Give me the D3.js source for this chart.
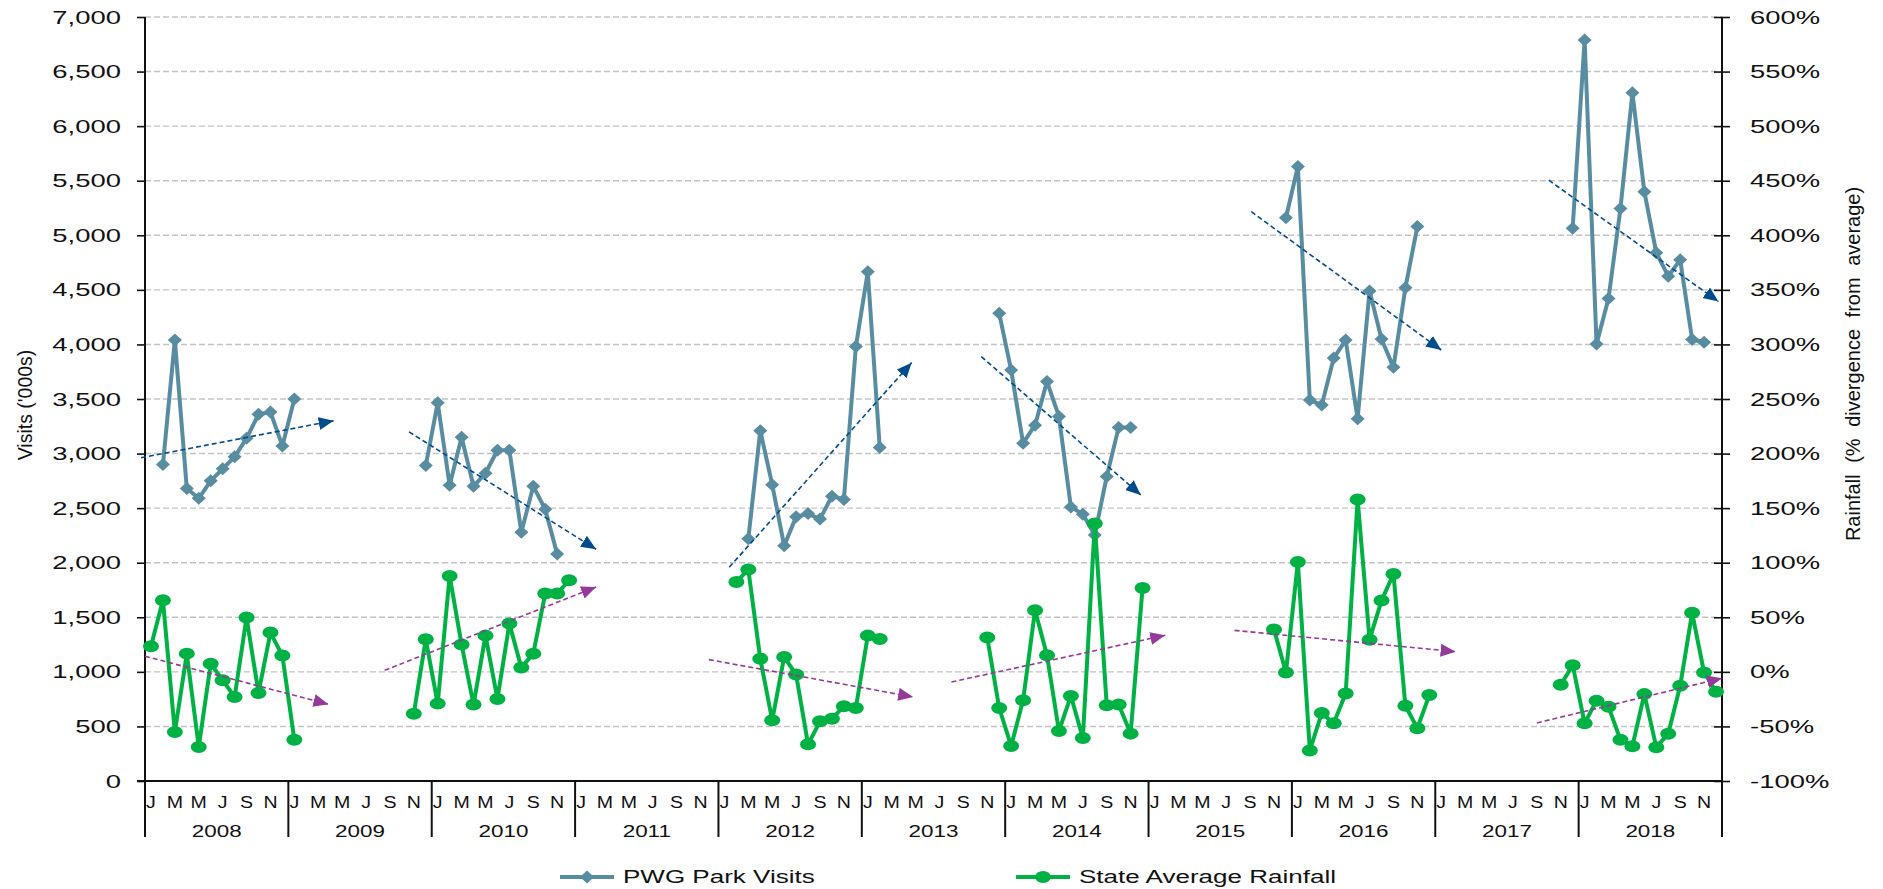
<!DOCTYPE html>
<html><head><meta charset="utf-8">
<script src="https://cdn.jsdelivr.net/npm/d3@7/dist/d3.min.js"></script>
<style>
body{margin:0;background:#fff}
svg{display:block}
text{font-family:"Liberation Sans",Arial,sans-serif;fill:#111}
</style>
</head><body>
<svg id="chart" width="1883" height="889"></svg>
<script>
// ---------------- DATA ----------------
const years = [2008,2009,2010,2011,2012,2013,2014,2015,2016,2017,2018];
const monthLetters = ["J","F","M","A","M","J","J","A","S","O","N","D"];
const leftTicks = [0,500,1000,1500,2000,2500,3000,3500,4000,4500,5000,5500,6000,6500,7000];
const rightTicks = [-100,-50,0,50,100,150,200,250,300,350,400,450,500,550,600];

// PWG Park Visits ('000s) — each block starts at the given month
const visitsStarts = ["2008-02","2009-12","2012-03","2013-12","2015-12","2017-12"];
const visits2008 = [2900,4040,2680,2590,2750,2860,2970,3140,3360,3380,3070,3500];
const visits2010 = [2890,3465,2710,3150,2700,2820,3030,3030,2280,2700,2490,2080];
const visits2012 = [2220,3210,2715,2155,2420,2450,2400,2610,2580,3980,4665,3055];
const visits2014 = [4285,3765,3095,3260,3660,3340,2510,2445,2255,2790,3240,3240];
const visits2016 = [5160,5630,3490,3445,3875,4040,3320,4490,4050,3790,4520,5080];
const visits2018 = [5065,6790,4005,4420,5245,6305,5400,4840,4625,4775,4045,4020];

// State Average Rainfall (% divergence from average)
const rainStarts = ["2008-01","2009-11","2012-02","2013-11","2015-11","2017-11"];
const rain2008 = [23.4,65.6,-55.1,16.7,-68.8,7.5,-7.7,-23.0,49.7,-19.3,36.0,14.9,-62.1];
const rain2010 = [-38.3,29.8,-29.1,87.9,25.0,-30.0,33.2,-24.8,44.2,3.9,16.7,71.7,71.7,83.9];
const rain2012 = [82.4,93.7,12.1,-44.4,13.7,-2.5,-66.4,-45.3,-42.9,-31.6,-33.1,33.2,30.2];
const rain2014 = [31.4,-33.1,-67.9,-26.1,56.4,15.2,-54.2,-22.1,-60.6,135.9,-30.6,-30.0,-56.6,76.9];
const rain2016 = [38.9,-0.6,100.6,-72.0,-37.7,-47.1,-19.8,158.0,29.5,65.3,89.7,-31.0,-51.7,-21.3];
const rain2018 = [-11.9,6.1,-47.1,-26.4,-31.9,-62.3,-68.1,-20.4,-69.0,-56.8,-12.8,54.1,-0.6,-18.2];

// trend arrows: [start month position, start value, end month position, end value]
const visitsTrends = [
  [-0.33,2962,15.79,3301],[22.1,3199,37.76,2123],[48.9,1958,64.17,3833],
  [70.0,3888,83.35,2621],[92.6,5216,108.5,3949],[117.5,5505,131.7,4393]];
const rainTrends = [
  [0.0,14.3,15.35,-29.7],[20.06,1.4,37.76,77.8],[47.2,11.2,64.3,-23.0],
  [67.5,-9.3,85.4,33.5],[91.2,38,109.7,18.5],[116.5,-46.8,132.0,-5.8]];

const seriesNames = ["PWG Park Visits","State Average Rainfall"];

// ---------------- CHART ----------------
const visitsColor = "#588ca1", rainColor = "#00b143";
const visitsTrendColor = "#004b8c", rainTrendColor = "#953a9b";

const svg = d3.select("#chart");
const L = 145, R = 1722, T = 17, B = 781;
const nMonths = years.length*12;
const x = d3.scaleLinear().domain([0,nMonths]).range([L,R]);
const yL = d3.scaleLinear().domain([0,7000]).range([B,T]);
const yR = d3.scaleLinear().domain([-100,600]).range([B,T]);

function monthIndex(s){const [y,m]=s.split("-").map(Number);return (y-years[0])*12+(m-1);}
function blocks(starts, arrays){
  return arrays.map((arr,k)=>{const s=monthIndex(starts[k]);return arr.map((v,i)=>({m:s+i,v}));});
}
const visitsBlocks = blocks(visitsStarts,[visits2008,visits2010,visits2012,visits2014,visits2016,visits2018]);
const rainBlocks = blocks(rainStarts,[rain2008,rain2010,rain2012,rain2014,rain2016,rain2018]);

// gridlines
svg.append("g").selectAll("line").data(leftTicks.filter(d=>d>0)).join("line")
  .attr("x1",L).attr("x2",R).attr("y1",d=>yL(d)).attr("y2",d=>yL(d))
  .attr("stroke","#c4c4c4").attr("stroke-width",1.4).attr("stroke-dasharray","6,3");

// left axis
const gL = svg.append("g").attr("transform",`translate(${L},0)`)
  .call(d3.axisLeft(yL).tickValues(leftTicks).tickFormat(d3.format(",")).tickSize(8).tickSizeOuter(0));
gL.select(".domain").remove();
gL.selectAll(".tick line").attr("stroke","#111").attr("stroke-width",1.6);
gL.selectAll(".tick text").attr("x",0).attr("dy",null).attr("dominant-baseline","central")
  .attr("transform","translate(-24,0) scale(1.55,1)").style("font-size","17.7px")
  .style("font-family","Liberation Sans, Arial, sans-serif").attr("fill","#111");

// right axis
const gR = svg.append("g").attr("transform",`translate(${R},0)`)
  .call(d3.axisRight(yR).tickValues(rightTicks).tickFormat(d=>d+"%").tickSize(8).tickSizeOuter(0));
gR.select(".domain").remove();
gR.selectAll(".tick line").attr("x1",-8).attr("x2",8).attr("stroke","#111").attr("stroke-width",1.6);
gR.selectAll(".tick text").attr("x",0).attr("dy",null).attr("dominant-baseline","central")
  .attr("transform","translate(28,0) scale(1.55,1)").style("font-size","17.7px")
  .style("font-family","Liberation Sans, Arial, sans-serif").attr("fill","#111");

// axis lines
const axisBottomY2 = 837;
svg.append("line").attr("x1",L-8).attr("x2",R).attr("y1",B).attr("y2",B).attr("stroke","#111").attr("stroke-width",2);
svg.append("line").attr("x1",L).attr("x2",L).attr("y1",T).attr("y2",axisBottomY2).attr("stroke","#111").attr("stroke-width",2);
svg.append("line").attr("x1",R).attr("x2",R).attr("y1",T).attr("y2",axisBottomY2).attr("stroke","#111").attr("stroke-width",2);

// year separators
svg.append("g").selectAll("line").data(d3.range(1,years.length)).join("line")
  .attr("x1",d=>x(d*12)).attr("x2",d=>x(d*12)).attr("y1",B).attr("y2",axisBottomY2)
  .attr("stroke","#111").attr("stroke-width",2);

// month labels (every other month)
const monthTicks = d3.range(0,nMonths,2);
svg.append("g").selectAll("text").data(monthTicks).join("text")
  .attr("transform",d=>`translate(${x(d+0.5)},802) scale(1.15,1)`)
  .attr("text-anchor","middle").attr("dominant-baseline","central")
  .style("font-size","17px").text(d=>monthLetters[d%12]);

// year labels
svg.append("g").selectAll("text").data(years).join("text")
  .attr("transform",(d,i)=>`translate(${x(i*12+6)},831) scale(1.32,1)`)
  .attr("text-anchor","middle").attr("dominant-baseline","central")
  .style("font-size","17px").text(d=>d);

// axis titles
svg.append("text").attr("transform","translate(25,405) rotate(-90)")
  .attr("text-anchor","middle").attr("dominant-baseline","central")
  .style("font-size","19.5px").text("Visits ('000s)");
svg.append("text").attr("transform","translate(1853,364) rotate(-90)")
  .attr("text-anchor","middle").attr("dominant-baseline","central")
  .style("font-size","20px").style("word-spacing","6px").text("Rainfall (% divergence from average)");

// series
const diamond = "M0,-6.5L7,0L0,6.5L-7,0Z";
const lineV = d3.line().x(d=>x(d.m+0.5)).y(d=>yL(d.v));
const lineR = d3.line().x(d=>x(d.m+0.5)).y(d=>yR(d.v));

const gV = svg.append("g");
visitsBlocks.forEach(b=>{
  gV.append("path").datum(b).attr("d",lineV).attr("fill","none")
    .attr("stroke",visitsColor).attr("stroke-width",4).attr("stroke-linejoin","round");
  gV.append("g").selectAll("path").data(b).join("path")
    .attr("d",diamond).attr("transform",d=>`translate(${x(d.m+0.5)},${yL(d.v)})`)
    .attr("fill",visitsColor);
});
const gRn = svg.append("g");
rainBlocks.forEach(b=>{
  gRn.append("path").datum(b).attr("d",lineR).attr("fill","none")
    .attr("stroke",rainColor).attr("stroke-width",4).attr("stroke-linejoin","round");
  gRn.append("g").selectAll("ellipse").data(b).join("ellipse")
    .attr("cx",d=>x(d.m+0.5)).attr("cy",d=>yR(d.v)).attr("rx",8).attr("ry",6)
    .attr("fill",rainColor);
});

// arrow markers
const defs = svg.append("defs");
[["arrV",visitsTrendColor],["arrR",rainTrendColor]].forEach(([id,c])=>{
  defs.append("marker").attr("id",id).attr("markerUnits","userSpaceOnUse")
    .attr("markerWidth",16).attr("markerHeight",14).attr("refX",15).attr("refY",6.5)
    .attr("orient","auto").append("path").attr("d","M0,0L15,6.5L0,13Z").attr("fill",c);
});

// trends
svg.append("g").selectAll("line").data(visitsTrends).join("line")
  .attr("x1",d=>x(d[0])).attr("y1",d=>yL(d[1])).attr("x2",d=>x(d[2])).attr("y2",d=>yL(d[3]))
  .attr("stroke",visitsTrendColor).attr("stroke-width",1.6).attr("stroke-dasharray","5,3")
  .attr("marker-end","url(#arrV)");
svg.append("g").selectAll("line").data(rainTrends).join("line")
  .attr("x1",d=>x(d[0])).attr("y1",d=>yR(d[1])).attr("x2",d=>x(d[2])).attr("y2",d=>yR(d[3]))
  .attr("stroke",rainTrendColor).attr("stroke-width",1.6).attr("stroke-dasharray","5,3")
  .attr("marker-end","url(#arrR)");

// legend
const legY = 877;
const leg = [
  {x1:560,x2:614,tx:623,color:visitsColor,type:"d",name:seriesNames[0]},
  {x1:1016,x2:1070,tx:1079,color:rainColor,type:"c",name:seriesNames[1]}];
leg.forEach(l=>{
  svg.append("line").attr("x1",l.x1).attr("x2",l.x2).attr("y1",legY).attr("y2",legY)
    .attr("stroke",l.color).attr("stroke-width",4);
  const cx=(l.x1+l.x2)/2;
  if(l.type==="d") svg.append("path").attr("d",diamond).attr("transform",`translate(${cx},${legY})`).attr("fill",l.color);
  else svg.append("ellipse").attr("cx",cx).attr("cy",legY).attr("rx",8).attr("ry",6).attr("fill",l.color);
  svg.append("text").attr("transform",`translate(${l.tx},${legY}) scale(1.47,1)`)
    .attr("dominant-baseline","central").style("font-size","17.7px").text(l.name);
});
</script>
</body></html>
